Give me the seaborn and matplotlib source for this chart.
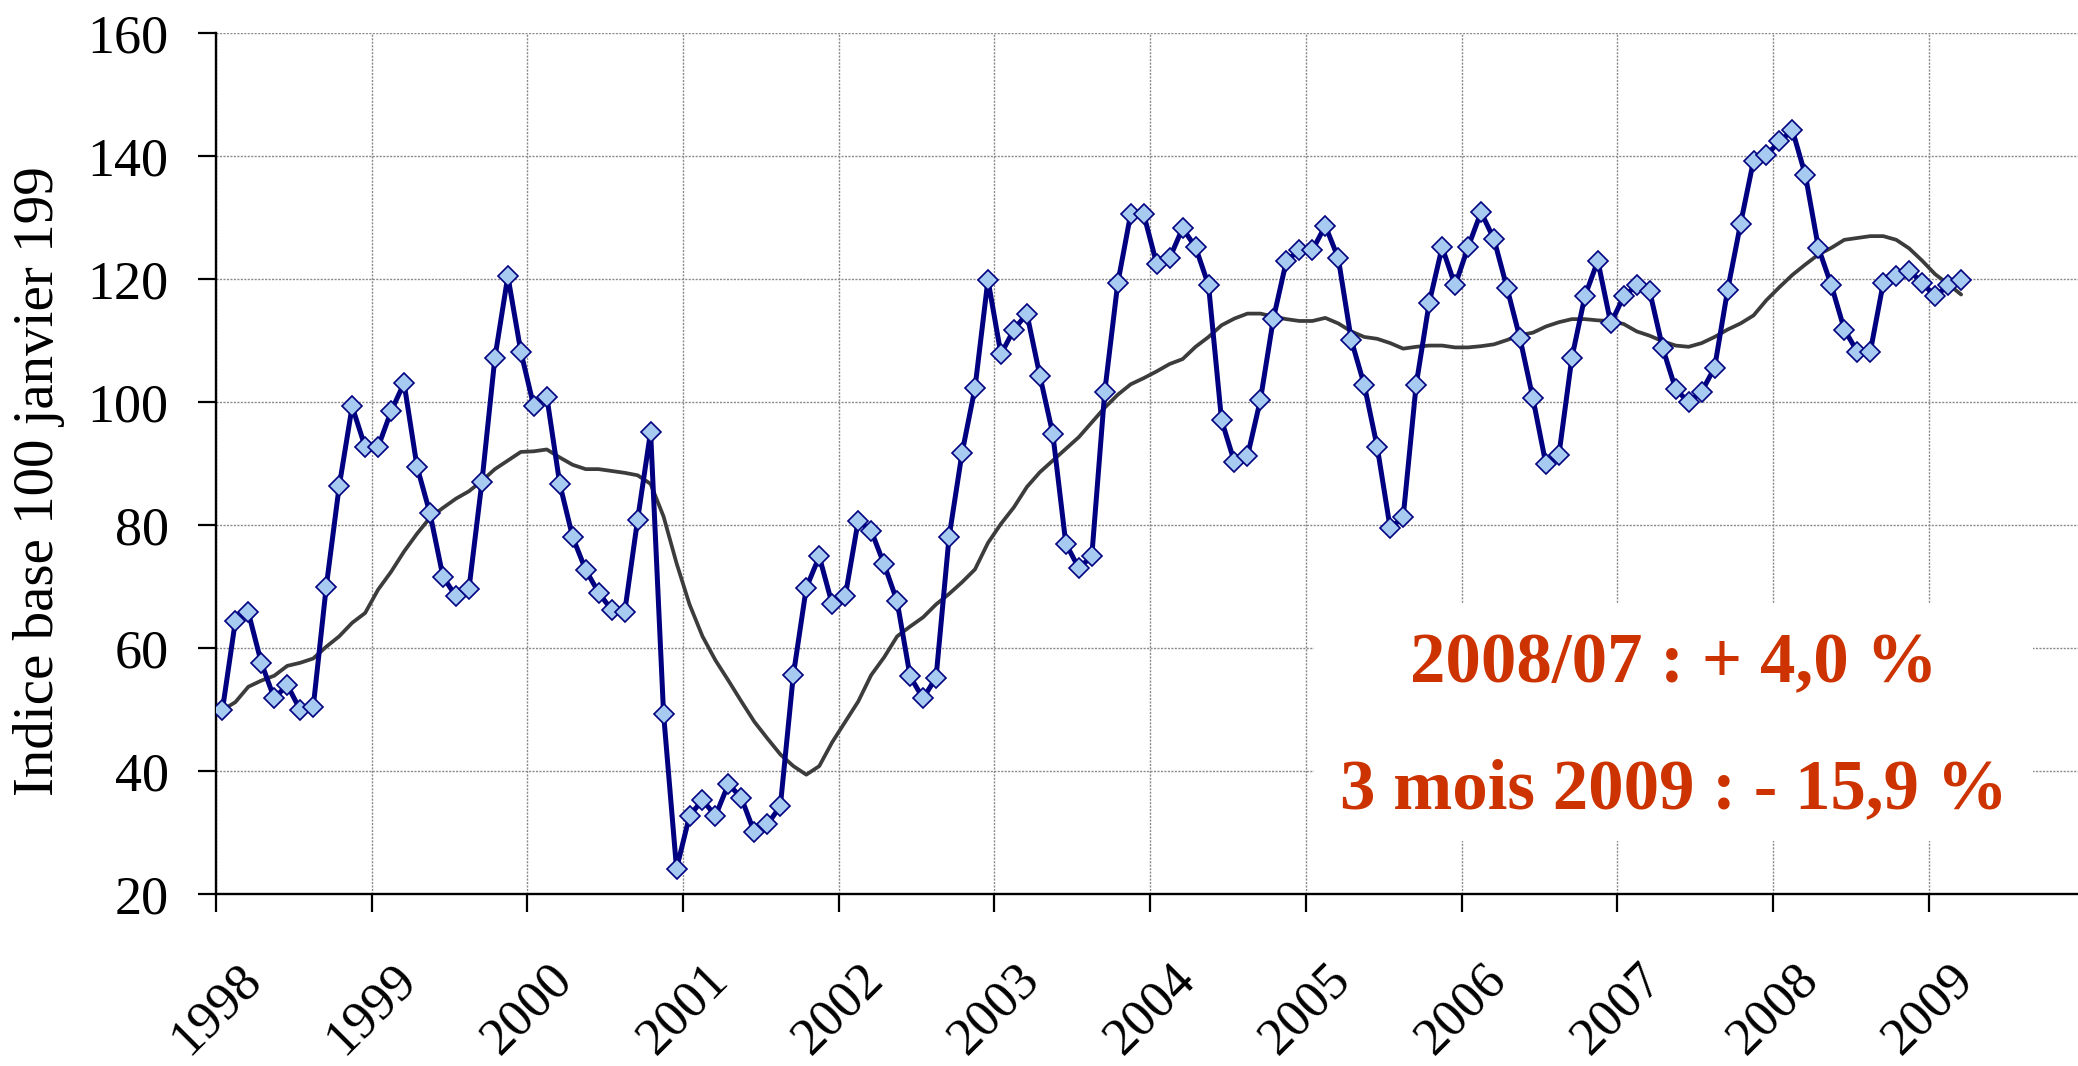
import numpy as np
import pandas as pd
import matplotlib
matplotlib.use("Agg")
import matplotlib.pyplot as plt
import seaborn as sns
from matplotlib.patches import Rectangle

# ---------------- data (monthly, Jan 1998 -> Mar 2009) ----------------
start_year = 1998
indice = [
    49.9, 64.4, 65.8, 57.6, 51.8, 54.0, 49.9, 50.4, 69.9, 86.3, 99.3, 92.7,       # 1998
    92.7, 98.5, 103.1, 89.5, 81.9, 71.6, 68.4, 69.6, 87.0, 107.2, 120.5, 108.2,   # 1999
    99.3, 100.9, 86.7, 78.0, 72.7, 69.0, 66.2, 65.8, 80.9, 95.2, 49.3, 24.1,      # 2000
    32.7, 35.3, 32.7, 37.9, 35.6, 30.0, 31.3, 34.3, 55.6, 69.8, 74.9, 67.1,       # 2001
    68.4, 80.7, 79.1, 73.6, 67.6, 55.4, 51.8, 55.2, 78.0, 91.7, 102.3, 119.9,     # 2002
    107.8, 111.8, 114.4, 104.3, 94.8, 77.0, 73.0, 74.9, 101.7, 119.3, 130.6, 130.6,  # 2003
    122.5, 123.4, 128.3, 125.2, 119.0, 97.1, 90.2, 91.2, 100.4, 113.6, 123.0, 124.7, # 2004
    124.7, 128.7, 123.4, 110.1, 102.8, 92.7, 79.5, 81.3, 102.8, 116.1, 125.2, 119.0, # 2005
    125.2, 130.9, 126.5, 118.6, 110.4, 100.6, 89.9, 91.4, 107.2, 117.2, 123.0, 112.8, # 2006
    117.2, 119.0, 118.0, 108.8, 102.1, 100.0, 101.7, 105.6, 118.2, 129.0, 139.3, 140.2, # 2007
    142.4, 144.2, 136.9, 125.1, 119.0, 111.8, 108.2, 108.2, 119.4, 120.5, 121.4, 119.4, # 2008
    117.2, 119.0, 119.9,                                                           # 2009
]
tendance = [
    49.9, 51.2, 53.7, 54.7, 55.5, 57.1, 57.6, 58.3, 60.2, 61.9, 64.1, 65.7,
    69.5, 72.4, 75.7, 78.6, 81.2, 82.8, 84.3, 85.5, 87.2, 89.1, 90.5, 91.9,
    92.0, 92.3, 91.0, 89.8, 89.1, 89.1, 88.8, 88.5, 88.1, 86.7, 81.4, 73.8,
    67.1, 61.9, 58.0, 54.7, 51.3, 48.0, 45.3, 42.7, 40.8, 39.4, 40.8, 44.7,
    48.0, 51.3, 55.6, 58.5, 61.9, 63.5, 65.0, 67.1, 68.8, 70.7, 72.8, 77.1,
    80.2, 82.9, 86.2, 88.6, 90.5, 92.4, 94.3, 96.7, 99.1, 101.2, 102.9, 103.9,
    105.0, 106.2, 107.0, 109.0, 110.6, 112.5, 113.6, 114.4, 114.4, 113.9, 113.5, 113.2,
    113.2, 113.7, 112.8, 111.5, 110.6, 110.3, 109.6, 108.7, 109.0, 109.2, 109.2, 108.9,
    108.9, 109.1, 109.4, 110.1, 110.9, 111.3, 112.3, 113.0, 113.5, 113.5, 113.3, 113.2,
    112.7, 111.5, 110.8, 109.9, 109.2, 109.0, 109.6, 110.6, 111.8, 112.8, 114.1, 116.6,
    118.7, 120.7, 122.4, 124.0, 125.1, 126.4, 126.7, 127.0, 127.0, 126.4, 125.0, 123.0,
    120.8, 119.2, 117.5,
]
annees = [1998, 1999, 2000, 2001, 2002, 2003, 2004, 2005, 2006, 2007, 2008, 2009]
y_ticks = [20, 40, 60, 80, 100, 120, 140, 160]
y_label = "Indice base 100 janvier 199"
note_1 = "2008/07 : + 4,0 %"
note_2 = "3 mois 2009 : - 15,9 %"

# months placed at the centre of each month slot
mois = np.arange(len(indice))
x_pos = start_year + (mois + 0.5) / 12.0
df = pd.DataFrame({"date": x_pos, "indice": indice, "tendance": tendance})

# ---------------- style ----------------
sns.set_theme(style="white")
plt.rcParams["font.family"] = ["Liberation Serif", "DejaVu Serif"]

fig = plt.figure(figsize=(20.78, 10.66), dpi=100)
ax = fig.add_axes([0.1039, 0.1614, 0.8961, 0.8074])

sns.lineplot(data=df, x="date", y="indice", ax=ax, sort=False,
             color="#000080", linewidth=3.6, marker="D", markersize=10,
             markerfacecolor="#A6CAF0", markeredgecolor="#000080",
             markeredgewidth=1.2, zorder=4)
sns.lineplot(data=df, x="date", y="tendance", ax=ax, sort=False,
             color="#3c3c3c", linewidth=2.7, zorder=3)

ax.set_xlim(1998, 1998 + (2078 - 216) / 155.7)
ax.set_ylim(20, 160)
ax.set_xticks(annees)
ax.set_xticklabels([str(a) for a in annees])
ax.set_yticks(y_ticks)
ax.set_yticklabels([str(v) for v in y_ticks])

ax.set_axisbelow(True)
ax.grid(True, color="#8a8a8a", linestyle=(0, (1.5, 1.0)), linewidth=1.0)

for side in ["top", "right"]:
    ax.spines[side].set_visible(False)
for side in ["left", "bottom"]:
    ax.spines[side].set_visible(True)
    ax.spines[side].set_color("black")
    ax.spines[side].set_linewidth(1.7)

ax.tick_params(axis="both", which="major", direction="out", length=13,
               width=1.6, color="black", left=True, bottom=True)
ax.tick_params(axis="y", labelsize=39, pad=21, labelcolor="black")
ax.tick_params(axis="x", labelsize=38, pad=70, labelcolor="black")
for lab in ax.get_xticklabels():
    lab.set_rotation(45)
    lab.set_rotation_mode("anchor")
    lab.set_ha("center")
    lab.set_va("center")

ax.set_xlabel("")
ax.set_ylabel(y_label, fontsize=41, color="black")
ax.yaxis.label.set_va("center")
ax.yaxis.label.set_ha("center")
ax.yaxis.set_label_coords(-0.095, 0.48)

# white box behind the annotation
ax.add_patch(Rectangle((2005.05, 28.6), 4.62, 38.8, facecolor="white",
                       edgecolor="none", zorder=1.5))
ax.text(2007.36, 54.4, note_1, ha="center", va="baseline", fontsize=51,
        fontweight="bold", color="#CC3300", zorder=5)
ax.text(2007.36, 33.9, note_2, ha="center", va="baseline", fontsize=51,
        fontweight="bold", color="#CC3300", zorder=5)

fig.savefig("out.png", dpi=100)
